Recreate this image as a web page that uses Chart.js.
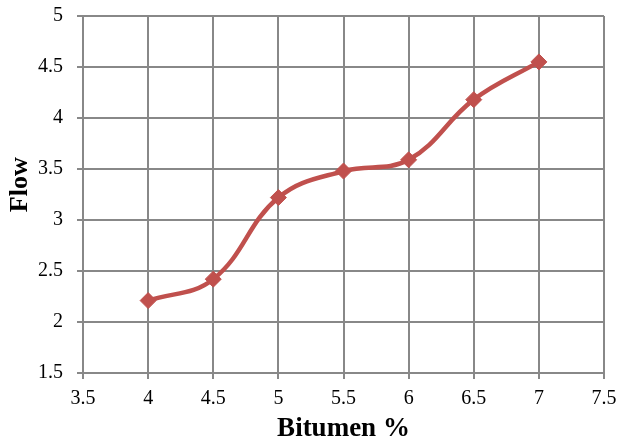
<!DOCTYPE html>
<html lang="en">
<head>
    <meta charset="UTF-8">
    <title>Flow vs Bitumen %</title>
    <style>
        html, body { margin: 0; padding: 0; background: #fff; }
        #wrap { width: 619px; height: 443px; position: relative; }
    </style>
</head>
<body>
    <div id="wrap"><canvas id="flowChart"></canvas></div>

    <script src="https://cdn.jsdelivr.net/npm/chart.js"></script>
    <script>
        // data
        const bitumen = [4, 4.5, 5, 5.5, 6, 6.5, 7];
        const flow = [2.21, 2.42, 3.22, 3.48, 3.59, 4.18, 4.55];
        const xTicks = [3.5, 4, 4.5, 5, 5.5, 6, 6.5, 7, 7.5];
        const yTicks = [1.5, 2, 2.5, 3, 3.5, 4, 4.5, 5];

        const red = "#C0504D";
        const gridGray = "#888888";
        const serif = "'Liberation Serif', 'Times New Roman', serif";

        const points = bitumen.map((x, i) => ({ x: x, y: flow[i] }));

        new Chart(document.getElementById("flowChart"), {
            type: "line",
            data: {
                datasets: [{
                    label: "Flow",
                    data: points,
                    borderColor: red,
                    backgroundColor: red,
                    borderWidth: 4.5,
                    tension: 0.4,
                    pointStyle: "rectRot",
                    pointRadius: 8,
                    pointHoverRadius: 8,
                    pointBorderWidth: 1
                }]
            },
            options: {
                responsive: true,
                maintainAspectRatio: false,
                animation: false,
                layout: { padding: { top: 16, right: 15, left: 0, bottom: 0 } },
                plugins: { legend: { display: false }, tooltip: { enabled: false } },
                scales: {
                    x: {
                        type: "linear",
                        min: xTicks[0],
                        max: xTicks[xTicks.length - 1],
                        afterBuildTicks: s => { s.ticks = xTicks.map(v => ({ value: v })); },
                        afterFit: s => { s.height = 70; s.paddingLeft = 0; s.paddingRight = 0; },
                        grid: { color: gridGray, lineWidth: 2, tickLength: 6, drawTicks: true },
                        border: { color: gridGray, width: 2 },
                        ticks: {
                            color: "#000",
                            font: { family: serif, size: 20 },
                            padding: 8,
                            maxRotation: 0,
                            callback: v => String(v)
                        },
                        title: {
                            display: true,
                            text: "Bitumen %",
                            color: "#000",
                            font: { family: serif, size: 27, weight: "bold", lineHeight: 1 },
                            padding: { top: 0, bottom: 0 }
                        }
                    },
                    y: {
                        min: yTicks[0],
                        max: yTicks[yTicks.length - 1],
                        afterBuildTicks: s => { s.ticks = yTicks.map(v => ({ value: v })); },
                        afterFit: s => { s.width = 83; s.paddingTop = 0; s.paddingBottom = 0; },
                        grid: { color: gridGray, lineWidth: 2, tickLength: 6 },
                        border: { color: gridGray, width: 2 },
                        ticks: {
                            color: "#000",
                            font: { family: serif, size: 20 },
                            padding: 14,
                            callback: v => String(v)
                        },
                        title: {
                            display: true,
                            // leading spaces nudge the rotated title upward like the original
                            text: "\u00A0\u00A0\u00A0Flow",
                            color: "#000",
                            font: { family: serif, size: 26, weight: "bold" },
                            padding: { top: 5, bottom: 0 }
                        }
                    }
                }
            }
        });
    </script>
</body>
</html>
